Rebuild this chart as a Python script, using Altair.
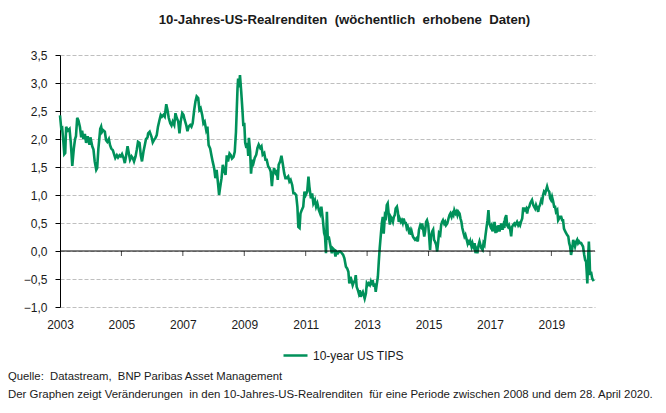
import altair as alt
import pandas as pd

years_a = [2003.00, 2003.04, 2003.07, 2003.11, 2003.14, 2003.17, 2003.20, 2003.23, 2003.26, 2003.31,
           2003.35, 2003.40, 2003.45, 2003.49, 2003.52, 2003.56, 2003.60, 2003.65, 2003.69, 2003.72,
           2003.76, 2003.81, 2003.85, 2003.90, 2003.96, 2003.99, 2004.05, 2004.09, 2004.13, 2004.18,
           2004.21, 2004.25, 2004.31, 2004.34, 2004.37, 2004.40, 2004.46, 2004.50, 2004.54, 2004.59,
           2004.63, 2004.67, 2004.72, 2004.77, 2004.80, 2004.85, 2004.89, 2004.94, 2004.98, 2005.02,
           2005.07, 2005.11, 2005.15, 2005.20, 2005.24, 2005.28, 2005.33, 2005.37, 2005.41, 2005.46,
           2005.50, 2005.54, 2005.59, 2005.63, 2005.67, 2005.72, 2005.76, 2005.80, 2005.85]
tips_a = [2.42, 2.19, 2.20, 1.95, 1.73, 1.75, 2.22, 2.18, 2.15, 2.18,
          1.95, 1.52, 1.83, 2.00, 2.05, 2.38, 2.33, 2.21, 2.03, 2.15,
          2.00, 2.09, 1.93, 2.05, 1.90, 2.03, 1.87, 1.81, 1.60, 1.45,
          1.48, 1.83, 2.18, 2.22, 2.13, 2.16, 2.13, 1.98, 1.95, 2.00,
          1.89, 1.83, 1.80, 1.71, 1.66, 1.71, 1.67, 1.71, 1.69, 1.73,
          1.66, 1.57, 1.69, 1.87, 1.75, 1.63, 1.69, 1.66, 1.60, 1.69,
          1.81, 1.95, 1.93, 1.71, 1.60, 1.78, 1.89, 2.00, 2.03]

years_b = [2005.87, 2005.92, 2005.98, 2006.02, 2006.06, 2006.11, 2006.15, 2006.19, 2006.24, 2006.28,
           2006.32, 2006.37, 2006.41, 2006.46, 2006.50, 2006.54, 2006.59, 2006.63, 2006.67, 2006.72,
           2006.76, 2006.80, 2006.85, 2006.89, 2006.93, 2006.98, 2007.02, 2007.06, 2007.11, 2007.15,
           2007.19, 2007.24, 2007.28, 2007.32, 2007.37, 2007.41, 2007.45, 2007.50, 2007.54, 2007.58,
           2007.63, 2007.67, 2007.71, 2007.76, 2007.80, 2007.84, 2007.89, 2007.93, 2007.97, 2008.02,
           2008.06, 2008.10, 2008.15, 2008.18, 2008.21, 2008.26, 2008.30, 2008.34, 2008.39, 2008.43,
           2008.47, 2008.52, 2008.56, 2008.60, 2008.65, 2008.69, 2008.73, 2008.78]
tips_b = [2.10, 2.13, 2.04, 1.94, 1.98, 2.02, 2.07, 2.22, 2.34, 2.43,
          2.40, 2.43, 2.40, 2.62, 2.52, 2.38, 2.28, 2.24, 2.31, 2.25,
          2.46, 2.38, 2.31, 2.10, 2.31, 2.46, 2.43, 2.34, 2.25, 2.14,
          2.22, 2.25, 2.22, 2.28, 2.52, 2.67, 2.76, 2.73, 2.52, 2.55,
          2.43, 2.28, 2.31, 2.16, 2.22, 1.89, 1.83, 1.71, 1.60, 1.48,
          1.30, 1.45, 1.18, 1.00, 1.12, 1.30, 1.54, 1.45, 1.36, 1.71,
          1.60, 1.74, 1.71, 1.65, 1.68, 1.77, 2.13, 2.90]

years_c = [2008.80, 2008.83, 2008.86, 2008.90, 2008.94, 2008.97, 2009.00, 2009.03, 2009.07, 2009.10,
           2009.13, 2009.15, 2009.19, 2009.22, 2009.26, 2009.30, 2009.34, 2009.39, 2009.43, 2009.47,
           2009.52, 2009.56, 2009.60, 2009.65, 2009.69, 2009.73, 2009.78, 2009.82, 2009.86, 2009.90,
           2009.93, 2009.97, 2010.02, 2010.06, 2010.09, 2010.12, 2010.17, 2010.21, 2010.25, 2010.30,
           2010.34, 2010.38, 2010.43, 2010.47, 2010.51, 2010.56, 2010.60, 2010.64, 2010.69, 2010.73,
           2010.76, 2010.80, 2010.83, 2010.87, 2010.92, 2010.96, 2011.00, 2011.05, 2011.09, 2011.12,
           2011.17, 2011.21, 2011.25, 2011.30, 2011.34, 2011.38, 2011.43, 2011.47, 2011.51, 2011.56,
           2011.60]
tips_c = [3.08, 2.92, 3.14, 2.85, 2.52, 2.23, 2.29, 1.93, 1.84, 1.93,
          1.70, 2.02, 1.78, 1.38, 1.63, 1.57, 1.66, 1.72, 1.84, 1.90,
          1.84, 1.87, 1.72, 1.75, 1.63, 1.63, 1.51, 1.48, 1.42, 1.16,
          1.36, 1.48, 1.39, 1.42, 1.27, 1.54, 1.60, 1.70, 1.57, 1.39,
          1.30, 1.30, 1.33, 1.24, 1.27, 1.18, 1.03, 1.03, 1.00, 0.79,
          0.43, 0.41, 0.67, 0.73, 0.79, 1.06, 1.00, 1.06, 1.33, 1.15,
          0.94, 1.03, 0.85, 0.91, 0.79, 0.85, 0.73, 0.67, 0.79, 0.55,
          0.32]

years_d = [2011.63, 2011.66, 2011.69, 2011.72, 2011.75, 2011.78, 2011.82, 2011.85, 2011.88, 2011.93,
           2011.97, 2012.00, 2012.05, 2012.09, 2012.13, 2012.18, 2012.22, 2012.26, 2012.31, 2012.35,
           2012.39, 2012.42, 2012.46, 2012.49, 2012.53, 2012.57, 2012.60, 2012.63, 2012.66, 2012.70,
           2012.73, 2012.76, 2012.79, 2012.83, 2012.86, 2012.89, 2012.92, 2012.96, 2012.99, 2013.02,
           2013.05, 2013.09, 2013.12, 2013.15, 2013.18, 2013.22, 2013.25, 2013.28, 2013.31, 2013.35,
           2013.38, 2013.41, 2013.45, 2013.48, 2013.51, 2013.54, 2013.58, 2013.61, 2013.64, 2013.67,
           2013.71, 2013.74, 2013.77, 2013.80, 2013.84, 2013.87, 2013.90, 2013.93, 2013.97, 2014.00,
           2014.03, 2014.06, 2014.10, 2014.13, 2014.16, 2014.19, 2014.23, 2014.26, 2014.29, 2014.32,
           2014.36, 2014.39, 2014.42, 2014.45, 2014.49, 2014.52]
tips_d = [0.26, -0.04, 0.70, 0.20, 0.26, 0.17, 0.05, -0.04, 0.05, 0.02,
          -0.10, -0.01, -0.04, -0.01, -0.01, -0.04, -0.07, -0.13, -0.28, -0.31,
          -0.37, -0.58, -0.46, -0.52, -0.61, -0.55, -0.55, -0.43, -0.64, -0.70,
          -0.76, -0.70, -0.82, -0.76, -0.73, -0.79, -0.85, -0.76, -0.58, -0.61,
          -0.58, -0.61, -0.55, -0.61, -0.52, -0.64, -0.58, -0.73, -0.61, -0.46,
          -0.19, 0.05, 0.31, 0.50, 0.61, 0.31, 0.64, 0.61, 0.82, 0.85,
          0.61, 0.47, 0.61, 0.58, 0.52, 0.61, 0.64, 0.76, 0.79, 0.70,
          0.52, 0.58, 0.52, 0.55, 0.50, 0.58, 0.50, 0.50, 0.41, 0.44,
          0.35, 0.38, 0.29, 0.35, 0.26, 0.23]

years_e = [2014.56, 2014.61, 2014.65, 2014.69, 2014.73, 2014.76, 2014.79, 2014.82, 2014.86, 2014.89,
           2014.92, 2014.95, 2014.99, 2015.02, 2015.05, 2015.08, 2015.12, 2015.15, 2015.18, 2015.21,
           2015.25, 2015.28, 2015.31, 2015.34, 2015.38, 2015.41, 2015.44, 2015.47, 2015.51, 2015.54,
           2015.57, 2015.61, 2015.65, 2015.68, 2015.71, 2015.75, 2015.78, 2015.81, 2015.84, 2015.88,
           2015.91, 2015.94, 2015.97, 2016.01, 2016.04, 2016.07, 2016.10, 2016.14, 2016.17, 2016.20,
           2016.23, 2016.27, 2016.30, 2016.33, 2016.36, 2016.40, 2016.43, 2016.46, 2016.50, 2016.53,
           2016.56, 2016.59, 2016.63, 2016.66, 2016.69, 2016.72, 2016.76, 2016.79, 2016.82, 2016.85,
           2016.89, 2016.92, 2016.95, 2016.98, 2017.02, 2017.05, 2017.08, 2017.11, 2017.15, 2017.18,
           2017.21, 2017.24, 2017.28, 2017.31, 2017.34, 2017.37, 2017.41, 2017.44, 2017.47]
tips_e = [0.20, 0.23, 0.17, 0.38, 0.46, 0.43, 0.49, 0.41, 0.26, 0.35,
          0.52, 0.55, 0.46, 0.26, 0.02, 0.26, 0.35, 0.38, 0.20, 0.17,
          0.11, -0.01, 0.14, 0.32, 0.29, 0.46, 0.52, 0.55, 0.49, 0.52,
          0.46, 0.49, 0.58, 0.64, 0.67, 0.61, 0.67, 0.64, 0.73, 0.67,
          0.70, 0.64, 0.70, 0.67, 0.58, 0.52, 0.41, 0.32, 0.26, 0.29,
          0.23, 0.14, 0.20, 0.11, 0.17, 0.08, 0.14, 0.08, 0.14, -0.04,
          0.02, -0.04, 0.11, 0.17, 0.11, 0.05, 0.02, 0.14, 0.11, 0.26,
          0.43, 0.55, 0.73, 0.49, 0.43, 0.46, 0.35, 0.41, 0.52, 0.32,
          0.41, 0.38, 0.46, 0.35, 0.43, 0.49, 0.38, 0.46, 0.41]

years_f = [2017.49, 2017.53, 2017.56, 2017.59, 2017.62, 2017.66, 2017.69, 2017.72, 2017.75, 2017.79,
           2017.82, 2017.85, 2017.88, 2017.92, 2017.95, 2017.98, 2018.01, 2018.05, 2018.08, 2018.11,
           2018.14, 2018.18, 2018.21, 2018.24, 2018.28, 2018.31, 2018.34, 2018.37, 2018.41, 2018.44,
           2018.47, 2018.50, 2018.54, 2018.57, 2018.60, 2018.63, 2018.67, 2018.70, 2018.73, 2018.76,
           2018.80, 2018.83, 2018.86, 2018.89, 2018.93, 2018.96, 2018.99, 2019.02, 2019.06, 2019.09,
           2019.12, 2019.15, 2019.19, 2019.22, 2019.25, 2019.28, 2019.32, 2019.35, 2019.38, 2019.41,
           2019.45, 2019.48, 2019.51, 2019.55, 2019.58, 2019.61, 2019.64, 2019.68, 2019.71, 2019.74,
           2019.77, 2019.81, 2019.84, 2019.87, 2019.90, 2019.94, 2019.97, 2020.00, 2020.03, 2020.07,
           2020.10, 2020.13, 2020.15, 2020.17, 2020.20, 2020.22, 2020.24, 2020.26, 2020.29, 2020.33,
           2020.36, 2020.38]
tips_f = [0.58, 0.64, 0.46, 0.43, 0.46, 0.38, 0.26, 0.43, 0.46, 0.49,
          0.46, 0.49, 0.52, 0.46, 0.49, 0.46, 0.52, 0.58, 0.76, 0.76,
          0.73, 0.76, 0.67, 0.76, 0.79, 0.85, 0.88, 0.91, 0.82, 0.79,
          0.76, 0.82, 0.76, 0.70, 0.79, 0.82, 0.91, 0.88, 1.00, 1.06,
          1.03, 1.09, 1.15, 1.09, 1.06, 0.94, 0.91, 0.97, 0.88, 0.79,
          0.79, 0.70, 0.73, 0.55, 0.58, 0.61, 0.61, 0.55, 0.55, 0.40,
          0.35, 0.32, 0.29, 0.26, 0.14, 0.08, -0.07, 0.05, 0.20, 0.14,
          0.08, 0.17, 0.20, 0.14, 0.17, 0.14, 0.14, 0.11, 0.08, -0.07,
          -0.16, -0.19, -0.37, -0.58, -0.07, 0.17, -0.07, -0.43, -0.37, -0.49,
          -0.52, -0.54]

series_name = "10-year US TIPS"
x_tick_years = [2003, 2005, 2007, 2009, 2011, 2013, 2015, 2017, 2019]
inner_tick_years = [2005, 2007, 2009, 2011, 2013, 2015, 2017, 2019]
y_ticks = [-1.0, -0.5, 0.0, 0.5, 1.0, 1.5, 2.0, 2.5, 3.0, 3.5]
title_text = "10-Jahres-US-Realrenditen \u00a0(wöchentlich \u00a0erhobene \u00a0Daten)"
note_source = "Quelle: \u00a0Datastream, \u00a0BNP Paribas Asset Management"
note_desc = ("Der Graphen zeigt Veränderungen \u00a0in den 10-Jahres-US-Realrenditen "
             "\u00a0für eine Periode zwischen 2008 und dem 28. April 2020.")

years = years_a + years_b + years_c + years_d + years_e + years_f
tips = tips_a + tips_b + tips_c + tips_d + tips_e + tips_f
assert len(years) == len(tips), (len(years), len(tips))

df = pd.DataFrame({"year": years, "value": tips, "series": series_name})

FONT = "Liberation Sans, Arial, sans-serif"
GREEN = "#00915A"
X_DOMAIN = [2003, 2020.42]
Y_DOMAIN = [-1, 3.5]
x_scale = alt.Scale(domain=X_DOMAIN, nice=False, zero=False)
y_scale = alt.Scale(domain=Y_DOMAIN, nice=False, zero=False)

x_axis = alt.Axis(values=x_tick_years, format="d", title=None, grid=False,
                  domain=False, ticks=False, labelPadding=12,
                  labelFontSize=12, labelColor="#1a1a1a", labelFont=FONT,
                  labelFlush=False)
y_axis = alt.Axis(values=y_ticks, title=None,
                  labelExpr="replace(format(datum.value, '.1f'), '.', ',')",
                  grid=True, gridColor="#BFBFBF", gridDash=[4, 2], gridWidth=1,
                  domainColor="black", tickColor="black", tickSize=5,
                  labelPadding=8, labelFontSize=12, labelColor="#1a1a1a",
                  labelFont=FONT)

line = alt.Chart(df).mark_line(strokeWidth=2.6, interpolate="linear").encode(
    x=alt.X("year:Q", scale=x_scale, axis=x_axis),
    y=alt.Y("value:Q", scale=y_scale, axis=y_axis),
    color=alt.Color("series:N",
                    scale=alt.Scale(domain=[series_name], range=[GREEN]),
                    legend=alt.Legend(orient="none", legendX=222, legendY=287,
                                      title=None, symbolType="stroke", symbolSize=576,
                                      symbolStrokeWidth=2.5, labelFontSize=12,
                                      labelFont=FONT, labelColor="#1a1a1a",
                                      labelOffset=4, padding=0)),
)

zero_rule = alt.Chart(pd.DataFrame({"value": [0.0]})).mark_rule(color="black", strokeWidth=1).encode(
    y=alt.Y("value:Q", scale=y_scale, axis=y_axis)
)

ticks = alt.Chart(pd.DataFrame({"year": inner_tick_years,
                                "value": [0.0] * len(inner_tick_years)})).mark_tick(
    orient="vertical", size=5, thickness=1, color="black", yOffset=2.5
).encode(
    x=alt.X("year:Q", scale=x_scale, axis=x_axis),
    y=alt.Y("value:Q", scale=y_scale, axis=y_axis),
)

note1 = alt.Chart(pd.DataFrame({"t": [note_source]})).mark_text(
    align="left", baseline="middle", fontSize=11.3, font=FONT, color="#1a1a1a"
).encode(text="t:N", x=alt.value(-52), y=alt.value(322))

note2 = alt.Chart(pd.DataFrame({"t": [note_desc]})).mark_text(
    align="left", baseline="middle", fontSize=11.45, font=FONT, color="#1a1a1a"
).encode(text="t:N", x=alt.value(-52), y=alt.value(340))

chart = alt.layer(line, zero_rule, ticks, note1, note2).properties(
    width=535,
    height=252,
    title=alt.TitleParams(title_text, font=FONT, fontSize=13.2, fontWeight="bold",
                          color="#1a1a1a", anchor="middle", dx=17, offset=22),
    autosize=alt.AutoSizeParams(type="none"),
    padding={"left": 60, "top": 55, "right": 71, "bottom": 106},
).configure_view(stroke=None).configure_axis(labelFont=FONT)

chart.save("out.html", embed_options={"renderer": "svg", "actions": False})
